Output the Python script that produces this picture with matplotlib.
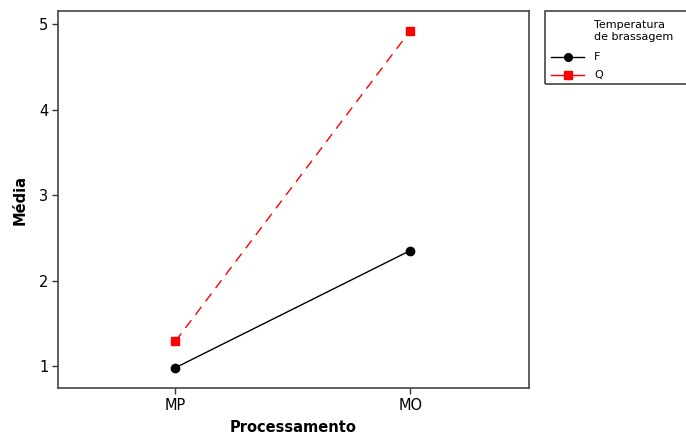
import matplotlib.pyplot as plt
from matplotlib.lines import Line2D
from matplotlib.patches import Rectangle

# interaction plot: mean response by processing, one line per mash temperature
processamento = ['MP', 'MO']
media_F = [0.98, 2.35]
media_Q = [1.29, 4.92]
legend_title = 'Temperatura\nde brassagem'

plt.rcParams['font.family'] = 'DejaVu Sans'

W, H = 686, 436
fig = plt.figure(figsize=(W / 100, H / 100), dpi=100)
ax = fig.add_axes([58 / W, 1 - 388 / H, (529 - 58) / W, (388 - 11) / H])

x = list(range(len(processamento)))
ax.plot(x, media_F, color='black', lw=1.0, marker='o', ms=6)
ax.plot(x, media_Q, color='red', lw=1.0, ls=(0, (7, 5)), marker='s', ms=6)

ax.set_xlim(-0.5, 1.506)
ax.set_ylim(0.743, 5.152)
ax.set_xticks(x)
ax.set_xticklabels(processamento)
ax.set_yticks([1, 2, 3, 4, 5])
ax.tick_params(direction='out', length=4, width=1, colors='#333333',
               labelcolor='black', labelsize=10.5, pad=3)
for s in ax.spines.values():
    s.set_color('#444444')
    s.set_linewidth(1.2)

ax.set_xlabel('Processamento', fontsize=10.5, fontweight='bold', labelpad=5)
ax.set_ylabel('Média', fontsize=10.5, fontweight='bold', labelpad=8)

# legend box drawn by hand, clipped at the right edge
def fx(px):
    return px / W

def fy(py):
    return 1 - py / H

fig.patches.append(Rectangle((fx(545), fy(84)), fx(160), fy(11) - fy(84),
                             transform=fig.transFigure, fill=False,
                             edgecolor='#444444', lw=1.2))
fig.text(fx(594), fy(31), legend_title, fontsize=8, va='center',
         ha='left', linespacing=1.35)
handles = [('F', 'black', 'o', 57), ('Q', 'red', 's', 75)]
for lab, col, mk, py in handles:
    fig.lines.append(Line2D([fx(551), fx(584)], [fy(py), fy(py)],
                            transform=fig.transFigure, color=col, lw=1.0))
    fig.lines.append(Line2D([fx(567.5)], [fy(py)], transform=fig.transFigure,
                            color=col, marker=mk, ms=5.5, ls='none'))
    fig.text(fx(594), fy(py), lab, fontsize=8, va='center', ha='left')

fig.savefig('out.png', dpi=100)
